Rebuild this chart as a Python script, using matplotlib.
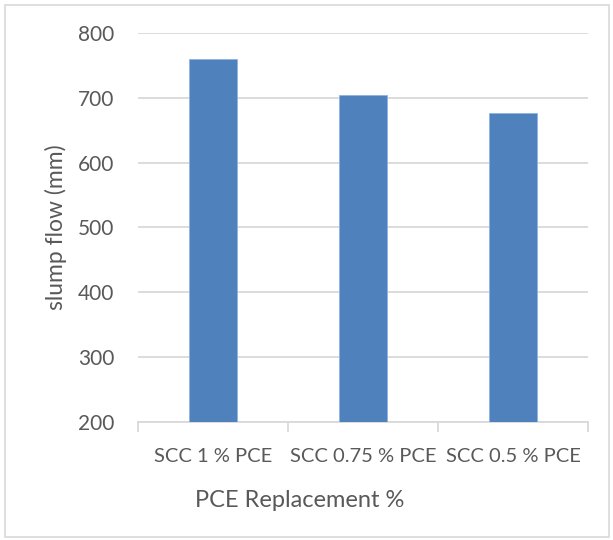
import matplotlib.pyplot as plt
from matplotlib.patches import Rectangle

categories = ['SCC 1 % PCE', 'SCC 0.75 % PCE', 'SCC 0.5 % PCE']
slump_flow = [760, 705, 676]
y_ticks = [200, 300, 400, 500, 600, 700, 800]

text_color = '#595959'
plt.rcParams['font.family'] = ['Lato', 'DejaVu Sans']

fig = plt.figure(figsize=(6.13, 5.4), dpi=100)
ax = fig.add_axes([138 / 613, 1 - 422 / 540, 450 / 613, 389 / 540])

x = range(len(categories))
ax.bar(x, slump_flow, width=0.32, color='#4f81bd', edgecolor='#8eb4e3',
       linewidth=0.6, zorder=3)
ax.set_ylim(200, 800)
ax.set_xlim(-0.5, len(categories) - 0.5)
ax.set_yticks(y_ticks)
ax.yaxis.grid(True, color='#d9d9d9', linewidth=1.3, zorder=0)

ax.set_xticks(x)
ax.set_xticklabels(categories)
ax.set_xticks([-0.5, 0.5, 1.5, 2.5], minor=True)
ax.tick_params(axis='x', which='major', length=0, pad=19, labelsize=14.5,
               labelcolor=text_color)
ax.tick_params(axis='x', which='minor', length=7, color='#d9d9d9', width=1.3)
ax.tick_params(axis='y', length=0, pad=17, labelsize=15, labelcolor=text_color)

for side in ['top', 'right', 'left']:
    ax.spines[side].set_visible(False)
ax.spines['bottom'].set_color('#d9d9d9')
ax.spines['bottom'].set_linewidth(1.3)

ax.set_xlabel('PCE Replacement %', fontsize=17, color=text_color, labelpad=18,
              x=0.36)
ax.set_ylabel('slump flow (mm)', fontsize=16.5, color=text_color, labelpad=8)

fig.patches.append(Rectangle((5 / 613, 3 / 540), 604 / 613, 532 / 540,
                             transform=fig.transFigure, fill=False,
                             edgecolor='#d9d9d9', linewidth=1.2))

fig.savefig('out.png', dpi=100)
